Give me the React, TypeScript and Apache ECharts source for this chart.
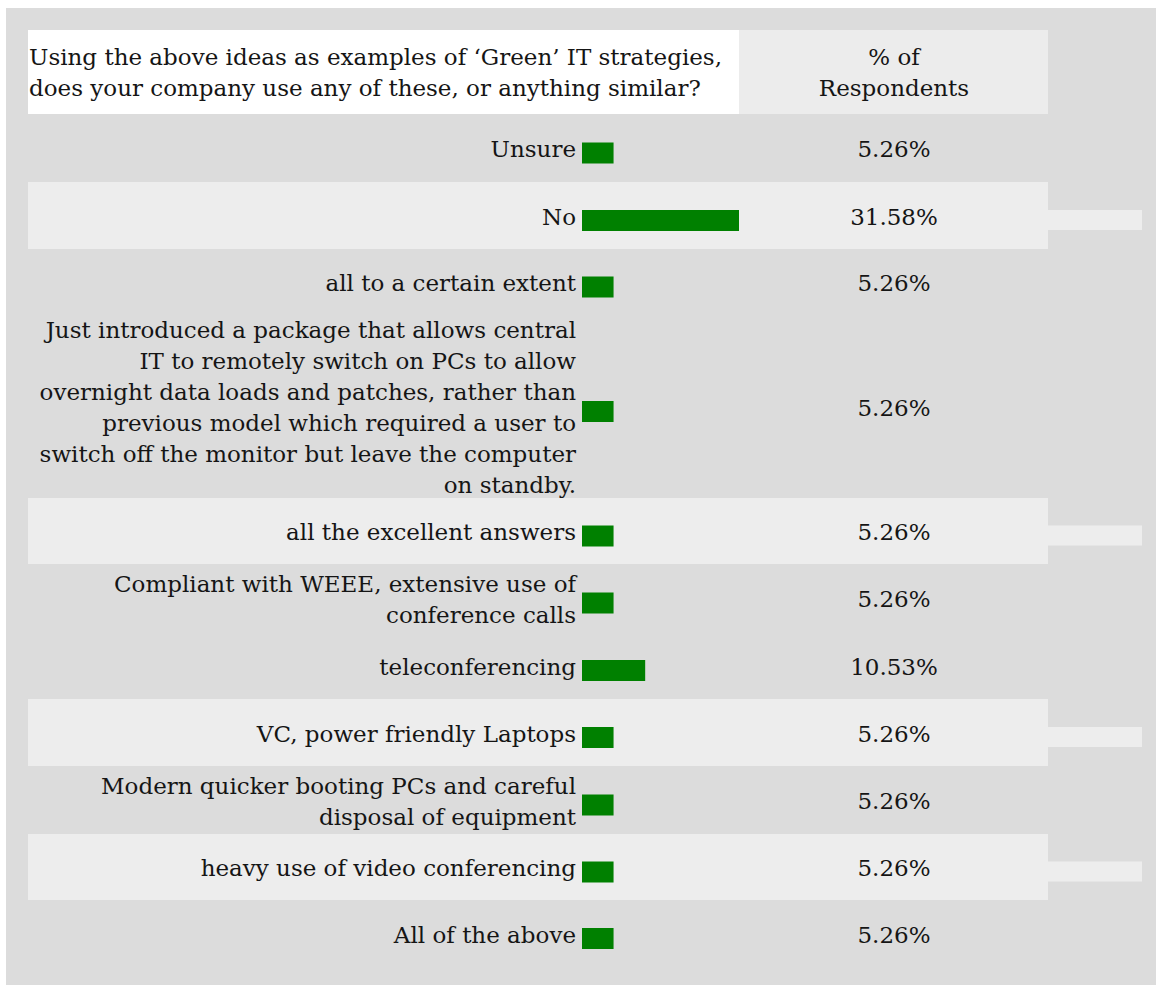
import React, { useEffect, useRef } from "react";
import * as echarts from "echarts";

const categories = [
  "Unsure",
  "No",
  "all to a certain extent",
  "Just introduced a package that allows central\nIT to remotely switch on PCs to allow\novernight data loads and patches, rather than\nprevious model which required a user to\nswitch off the monitor but leave the computer\non standby.",
  "all the excellent answers",
  "Compliant with WEEE, extensive use of\nconference calls",
  "teleconferencing",
  "VC, power friendly Laptops",
  "Modern quicker booting PCs and careful\ndisposal of equipment",
  "heavy use of video conferencing",
  "All of the above",
];
const values = [5.26, 31.58, 5.26, 5.26, 5.26, 5.26, 10.53, 5.26, 5.26, 5.26, 5.26];
const questionTitle =
  "Using the above ideas as examples of \u2018Green\u2019 IT strategies,\ndoes your company use any of these, or anything similar?";
const columnTitle = "% of\nRespondents";
const highlighted = [false, true, false, false, true, false, false, true, false, true, false];

// layout (pixels)
const rowHeights = [68, 67, 66, 183, 66, 68, 67, 67, 68, 66, 67];
const FONT = "DejaVu Serif";
const FS = 23;
const TXT = "#151515";
const LIGHT = "#ededed";
const GRAY = "#dcdcdc";
const BAR_LEFT = 582;
const BAR_AREA = 157;
const PX_PER_UNIT = 6;

export default function App() {
  const ref = useRef<HTMLDivElement>(null);
  useEffect(() => {
    if (!ref.current) return;
    const chart = echarts.init(ref.current, undefined, { renderer: "svg" });
    let y = 114;
    const rowTops = rowHeights.map((h) => {
      const t = y;
      y += h;
      return t;
    });
    const grids: any[] = [];
    const xAxes: any[] = [];
    const yAxes: any[] = [];
    const series: any[] = [];
    const graphic: any[] = [
      { type: "rect", z: -10, shape: { x: 6, y: 8, width: 1150, height: 977 }, style: { fill: GRAY } },
      { type: "rect", z: -9, shape: { x: 28, y: 30, width: 711, height: 84 }, style: { fill: "#ffffff" } },
      { type: "rect", z: -9, shape: { x: 739, y: 30, width: 309, height: 84 }, style: { fill: "#ececec" } },
      {
        type: "text",
        z: -8,
        x: 29,
        y: 72,
        style: {
          text: questionTitle,
          font: `${FS}px "${FONT}"`,
          fill: TXT,
          lineHeight: 31,
          verticalAlign: "middle",
          align: "left",
        },
      },
      {
        type: "text",
        z: -8,
        x: 894,
        y: 72,
        style: {
          text: columnTitle,
          font: `${FS}px "${FONT}"`,
          fill: TXT,
          lineHeight: 31,
          verticalAlign: "middle",
          align: "center",
        },
      },
    ];
    const labelBase = {
      fontFamily: FONT,
      fontSize: FS,
      color: TXT,
      lineHeight: 31,
    };
    categories.forEach((cat, i) => {
      const top = rowTops[i];
      const h = rowHeights[i];
      if (highlighted[i]) {
        graphic.push({ type: "rect", z: -9, shape: { x: 28, y: top, width: 1020, height: h }, style: { fill: LIGHT } });
        const barTop = top + 5 + h / 2 - 10.5;
        graphic.push({ type: "rect", z: -9, shape: { x: 1048, y: barTop, width: 94, height: 20 }, style: { fill: LIGHT } });
      }
      // bar grid
      const gb = grids.length;
      grids.push({ left: BAR_LEFT, top: top + 5, width: BAR_AREA, height: h });
      xAxes.push({ type: "value", gridIndex: gb, min: 0, max: BAR_AREA / PX_PER_UNIT, show: false });
      const yb = yAxes.length;
      yAxes.push({ type: "category", gridIndex: gb, data: [cat], show: false });
      series.push({
        type: "bar",
        xAxisIndex: gb,
        yAxisIndex: yb,
        data: [values[i]],
        barWidth: 21,
        clip: true,
        itemStyle: { color: "#008000" },
        z: 5,
      });
      // label grid
      const gl = grids.length;
      grids.push({ left: BAR_LEFT, top: top + 1, width: BAR_AREA, height: h });
      xAxes.push({ type: "value", gridIndex: gl, min: 0, max: BAR_AREA / PX_PER_UNIT, show: false });
      yAxes.push({
        type: "category",
        gridIndex: gl,
        data: [cat],
        axisLine: { show: false },
        axisTick: { show: false },
        splitLine: { show: false },
        axisLabel: { ...labelBase, margin: 6, align: "right" },
        z: 5,
      });
      yAxes.push({
        type: "category",
        gridIndex: gl,
        position: "right",
        data: [values[i].toFixed(2) + "%"],
        axisLine: { show: false },
        axisTick: { show: false },
        splitLine: { show: false },
        axisLabel: { ...labelBase, margin: 894 - (BAR_LEFT + BAR_AREA), align: "center" },
        z: 5,
      });
    });
    chart.setOption({
      animation: false,
      grid: grids,
      xAxis: xAxes,
      yAxis: yAxes,
      series,
      graphic,
    });
    return () => chart.dispose();
  }, []);
  return (
    <div
      ref={ref}
      style={{ position: "absolute", left: 0, top: 0, width: 1156, height: 985 }}
    />
  );
}
